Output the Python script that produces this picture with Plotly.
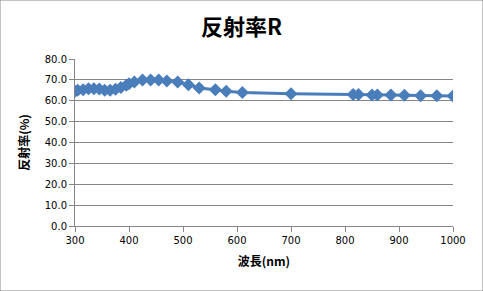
import plotly.graph_objects as go

wavelength = [300, 305, 315, 325, 335, 345, 355, 365, 375, 385, 395, 400, 410, 425, 440, 455,
              470, 490, 510, 530, 560, 580, 610, 700, 815, 825, 850, 860, 885, 910, 940, 970, 1000]
reflectance = [64.6, 65.0, 65.3, 65.8, 65.8, 65.6, 65.0, 65.0, 65.5, 66.3, 67.4, 68.2, 69.0, 70.0,
               70.0, 70.0, 69.5, 69.0, 67.7, 66.1, 65.3, 64.5, 63.9, 63.3, 63.0, 63.0, 62.8, 62.8,
               62.7, 62.6, 62.4, 62.4, 62.3]

title_text = "反射率R"
x_title = "波長(nm)"
y_title = "反射率(%)"

font_family = "Noto Sans CJK JP, DejaVu Sans, sans-serif"
blue = "#4a7ebb"
grid = "#868686"

fig = go.Figure()
fig.add_trace(go.Scatter(
    x=wavelength, y=reflectance, mode="lines+markers",
    line=dict(color=blue, width=3),
    marker=dict(symbol="diamond", size=10, color=blue),
    showlegend=False,
))

fig.update_layout(
    width=483, height=291,
    margin=dict(l=75, r=30, t=59, b=65),
    paper_bgcolor="white", plot_bgcolor="white",
    title=dict(text="<b>" + title_text + "</b>", x=0.5, xanchor="center", y=0.905, yanchor="middle",
               font=dict(family=font_family, size=22, color="black")),
    font=dict(family=font_family, size=11, color="black"),
    xaxis=dict(range=[300, 1000], dtick=100, tick0=300, showgrid=False,
               showline=True, linecolor=grid, linewidth=1,
               ticks="outside", ticklen=5, tickcolor=grid,
               tickfont=dict(family="DejaVu Sans, sans-serif", size=10),
               title=dict(text="<b>" + x_title + "</b>", standoff=12,
                          font=dict(family=font_family, size=12))),
    yaxis=dict(range=[0, 80], dtick=10, tickformat=".1f", showgrid=True, gridcolor=grid, gridwidth=1,
               showline=True, linecolor=grid, linewidth=1, zeroline=False,
               ticks="outside", ticklen=5, tickcolor=grid,
               tickfont=dict(family="DejaVu Sans, sans-serif", size=10),
               title=dict(text="<b>" + y_title + "</b>", standoff=12,
                          font=dict(family=font_family, size=12))),
    shapes=[dict(type="rect", xref="paper", yref="paper", x0=-75/378, x1=1+30/378,
                 y0=-65/167, y1=1+59/167, line=dict(color=grid, width=1), layer="below")],
)

fig.write_html("out.html")
